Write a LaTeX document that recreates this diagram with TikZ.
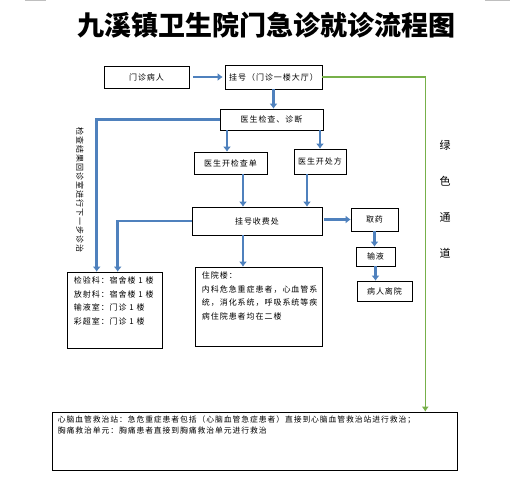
\documentclass[tikz,border=0pt]{standalone}
\usepackage{fontspec}
\setmainfont{Noto Sans CJK SC}
\newfontfamily\cjk[LetterSpace=12]{Noto Sans CJK SC}
\usetikzlibrary{arrows.meta}
\definecolor{flowblue}{HTML}{4F81BD}
\definecolor{greenway}{HTML}{77B04A}

\begin{document}
\begin{tikzpicture}[x=1pt, y=-1pt,
	box/.style={draw, rectangle, line width=0.6pt, inner sep=0pt, font=\cjk\fontsize{8}{13.5}\selectfont},
	info/.style={inner xsep=7pt, inner ysep=5pt, align=left, font=\cjk\fontsize{8}{13.5}\selectfont},
	flow/.style={line width=2.8pt, flowblue, -{Latex[length=5pt, width=8pt]}},
	greenflow/.style={line width=1.6pt, greenway, -{Latex[length=5pt, width=7pt]}}]
	% Page and title:
	\fill[white] (0,0) rectangle (510,498);
	\useasboundingbox (0,0) rectangle (510,498);
	\draw[gray!50, line width=0.6pt] (25,0.5) -- (46,0.5) (485,0.5) -- (510,0.5);
	\node[font=\bfseries\fontsize{27}{27}\selectfont] (title) at (266,25) {九溪镇卫生院门急诊就诊流程图};
	% Boxes:
	\node[box, minimum width=85, minimum height=22] (patient) at (146.5,77) {门诊病人};
	\node[box, minimum width=97, minimum height=24] (reg) at (273.5,77) {挂号（门诊一楼大厅）};
	\node[box, minimum width=103, minimum height=21] (exam) at (271.5,119.5) {医生检查、诊断};
	\node[box, minimum width=73, minimum height=22] (order) at (230.5,163) {医生开检查单};
	\node[box, minimum width=52, minimum height=25] (presc) at (320,161.5) {医生开处方};
	\node[box, minimum width=130, minimum height=28] (pay) at (257,221) {挂号收费处};
	\node[box, minimum width=47, minimum height=23] (drug) at (374.5,219.5) {取药};
	\node[box, minimum width=39, minimum height=19] (infuse) at (375.5,256.5) {输液};
	\node[box, minimum width=55, minimum height=20] (leave) at (384.5,291) {病人离院};
	\node[box, minimum width=95, minimum height=76, label={[info, anchor=north west, label distance=0pt]north west:{检验科：宿舍楼 1 楼\\放射科：宿舍楼 1 楼\\输液室：门诊 1 楼\\彩超室：门诊 1 楼}}] (lab) at (114.5,310) {};
	\node[box, minimum width=127, minimum height=79, label={[info, anchor=north west, label distance=0pt]north west:{住院楼：\\内科危急重症患者，心血管系\\统，消化系统，呼吸系统等疾\\病住院患者均在二楼}}] (inpat) at (258.5,306.5) {};
	\node[box, minimum width=405, minimum height=58, label={[info, inner xsep=6pt, inner ysep=4pt, anchor=north west, label distance=0pt, font=\cjk\fontsize{7.8}{11}\selectfont]north west:{心脑血管救治站：急危重症患者包括（心脑血管急症患者）直接到心脑血管救治站进行救治；\\胸痛救治单元：胸痛患者直接到胸痛救治单元进行救治}}] (green) at (254.5,441) {};
	% Side texts:
	\node[info, inner sep=0pt, rotate=-90] (backnote) at (80,190) {检查结果回诊室进行下一步诊治};
	\node[align=center, font=\fontsize{11}{36}\selectfont] (channel) at (445,199) {绿\\色\\通\\道};
	% Arrows:
	\draw[flow, shorten <=4pt, shorten >=2pt] (patient.east) -- (reg.west);
	\draw[flow] (reg.south) -- (reg.south |- exam.north);
	\draw[flow] ([xshift=-44.5]exam.south) -- ([xshift=-44.5]exam.south |- order.north);
	\draw[flow] (presc.north |- exam.south) -- (presc.north);
	\draw[flow] ([xshift=12.5]order.south) -- ([xshift=12.5]order.south |- pay.north);
	\draw[flow] ([xshift=-13]presc.south) -- ([xshift=-13]presc.south |- pay.north);
	\draw[flow, shorten <=2pt] (pay.east |- drug.west) -- (drug.west);
	\draw[flow] (drug.south) -- (drug.south |- infuse.north);
	\draw[flow] (infuse.south) -- (infuse.south |- leave.north);
	\draw[flow] ([xshift=-14]pay.south) -- ([xshift=-14]pay.south |- inpat.north);
	\draw[flow] (exam.west) -| ([xshift=30]lab.north west);
	\draw[flow] (pay.west) -| ([xshift=51]lab.north west);
	\draw[greenflow] (reg.east) -| ([xshift=-32]green.north east);
\end{tikzpicture}
\end{document}
